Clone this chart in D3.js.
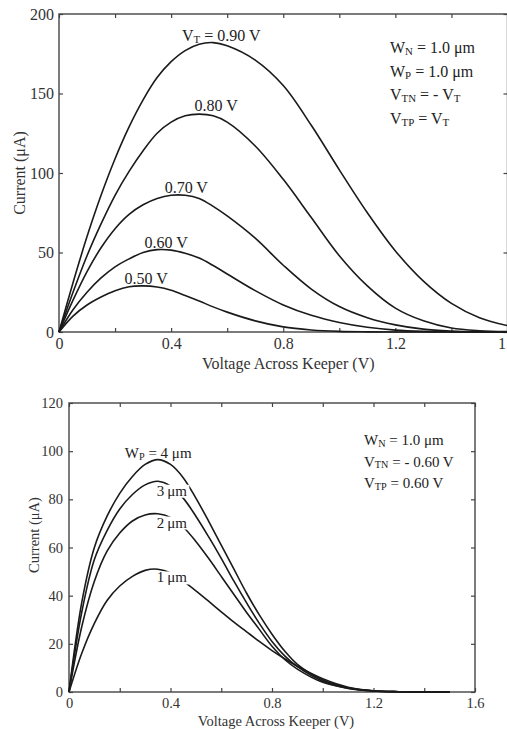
<!DOCTYPE html>
<html>
<head>
<meta charset="utf-8">
<script src="https://cdn.jsdelivr.net/npm/d3@7"></script>
<style>
  body { margin: 0; background: #fff; }
  svg { display: block; font-family: "Liberation Serif", "Times New Roman", serif; }
  .axis text { fill: #333; }
  .axis line { stroke: #444; stroke-width: 1.2; }
</style>
</head>
<body>
<svg class="fig" width="507" height="729"></svg>
<script>
// ---- top panel: keeper current for different threshold voltages ----
const topVolts = [0, 0.05, 0.1, 0.15, 0.2, 0.25, 0.3, 0.35, 0.4, 0.45, 0.5, 0.55, 0.6, 0.7, 0.8, 0.9, 1.0, 1.1, 1.2, 1.3, 1.4, 1.5, 1.6];
const vt090 = [0, 31, 60, 86, 109, 129, 146, 160, 170, 177, 181, 182, 180, 171, 155, 130, 102, 75, 51, 32, 18, 9, 4];
const vt080 = [0, 25, 48, 68, 86, 101, 114, 125, 132, 136, 137, 136, 132, 117, 96, 72, 48, 29, 15, 7, 2.5, 0.8, 0.2];
const vt070 = [0, 20, 38, 53, 65, 74, 80, 84, 86, 86, 84, 79, 73, 59, 42, 27, 16, 9, 4.5, 1.8, 0.6, 0.1, 0];
const vt060 = [0, 14, 25, 34, 41, 46, 50, 51.8, 51.5, 49.5, 46.5, 41.8, 36.5, 26, 17, 10.5, 6, 3, 1.2, 0.4, 0.1, 0, 0];
const vt050 = [0, 10, 17, 22, 26, 28.5, 29, 28.3, 26.3, 23, 19.5, 15.8, 12.5, 7, 3.2, 1.3, 0.4, 0.1, 0, 0, 0, 0, 0];
const topSeries = [vt090, vt080, vt070, vt060, vt050];
const topXTicks = [0, 0.2, 0.4, 0.6, 0.8, 1.0, 1.2, 1.4, 1.6];
const topYTicks = [0, 50, 100, 150, 200];

// ---- bottom panel: keeper current for different PMOS widths ----
const botVolts = [0, 0.05, 0.1, 0.15, 0.2, 0.25, 0.3, 0.35, 0.4, 0.45, 0.5, 0.55, 0.6, 0.65, 0.7, 0.75, 0.8, 0.85, 0.9, 1.0, 1.1, 1.2, 1.3, 1.4, 1.5];
const wp4 = [0, 37, 60, 73, 82.5, 89.5, 94.5, 96.5, 94.5, 89, 80.5, 71, 61, 51, 41, 32, 24, 17, 11.5, 5, 1.8, 0.5, 0.1, 0, 0];
const wp3 = [0, 33, 55, 67, 76, 82, 86, 87.5, 85.5, 80.5, 73, 64.5, 55.5, 46, 37, 28.5, 21, 15, 10.5, 4.5, 1.6, 0.4, 0.1, 0, 0];
const wp2 = [0, 27, 46, 58.5, 66, 71, 73.5, 74, 72.5, 68.5, 62.5, 55.5, 48, 40.5, 33, 26, 19, 13.5, 9.5, 4, 1.5, 0.4, 0.1, 0, 0];
const wp1 = [0, 16, 28.5, 38, 44, 48, 50.5, 51, 49.5, 46, 42, 37.7, 33.3, 29, 25, 21, 17.2, 13.8, 10.7, 5.5, 2, 0.5, 0.1, 0, 0];
const botSeries = [wp4, wp3, wp2, wp1];
const botXTicks = [0, 0.2, 0.4, 0.6, 0.8, 1.0, 1.2, 1.4, 1.6];
const botYTicks = [0, 20, 40, 60, 80, 100, 120];

const svg = d3.select(".fig");

// text with subscript parts: parts = [[text, isSub], ...]
function richText(g, parts, x, y, size, anchor) {
  let t = g.append("text")
    .attr("x", x)
    .attr("y", y)
    .attr("font-size", size)
    .attr("fill", "#222")
    .attr("text-anchor", anchor || "start");
  let shift = 0;
  parts.forEach((p) => {
    let want = p[1] ? size * 0.12 : 0;
    t.append("tspan")
      .attr("dy", want - shift)
      .attr("font-size", p[1] ? size * 0.68 : size)
      .text(p[0]);
    shift = want;
  });
  return t;
}

function drawPanel(opt) {
  let g = svg.append("g");
  let x = d3.scaleLinear().domain(opt.xDomain).range(opt.xRange);
  let y = d3.scaleLinear().domain(opt.yDomain).range(opt.yRange);
  let fmt = (d) => (d === 0 ? "0" : d3.format(".1f")(d));

  // bottom axis, labels only every 0.4
  g.append("g")
    .attr("class", "axis")
    .attr("transform", `translate(0,${opt.yRange[0]})`)
    .call(
      d3.axisBottom(x).tickValues(opt.xTicks).tickSizeInner(-4).tickSizeOuter(0).tickPadding(opt.xPad)
        .tickFormat((d) => (Math.round(d * 10) % 4 === 0 ? fmt(d) : ""))
    )
    .attr("font-family", null)
    .call((a) => a.select(".domain").remove())
    .selectAll("text")
    .attr("font-size", opt.tickSize);

  g.append("g")
    .attr("class", "axis")
    .attr("transform", `translate(0,${opt.yRange[1]})`)
    .call(d3.axisTop(x).tickValues(opt.xTicks).tickSizeInner(-4).tickSizeOuter(0).tickFormat(""))
    .call((a) => a.select(".domain").remove());

  g.append("g")
    .attr("class", "axis")
    .attr("transform", `translate(${opt.xRange[0]},0)`)
    .call(d3.axisLeft(y).tickValues(opt.yTicks).tickSizeInner(-4).tickSizeOuter(0).tickPadding(opt.yPad))
    .attr("font-family", null)
    .call((a) => a.select(".domain").remove())
    .selectAll("text")
    .attr("font-size", opt.tickSize);

  g.append("g")
    .attr("class", "axis")
    .attr("transform", `translate(${opt.xRange[1]},0)`)
    .call(d3.axisRight(y).tickValues(opt.yTicks).tickSizeInner(-4).tickSizeOuter(0).tickFormat(""))
    .call((a) => a.select(".domain").remove());

  // frame
  g.append("rect")
    .attr("x", opt.xRange[0])
    .attr("y", opt.yRange[1])
    .attr("width", opt.xRange[1] - opt.xRange[0])
    .attr("height", opt.yRange[0] - opt.yRange[1])
    .attr("fill", "none")
    .attr("stroke", "#444")
    .attr("stroke-width", 1.4);

  // curves
  let line = d3
    .line()
    .x((d) => x(d[0]))
    .y((d) => y(d[1]))
    .curve(d3.curveCatmullRom.alpha(0.5));

  g.selectAll(".curve")
    .data(opt.series)
    .enter()
    .append("path")
    .attr("class", "curve")
    .attr("fill", "none")
    .attr("stroke", "#1a1a1a")
    .attr("stroke-width", 1.6)
    .attr("d", (s) => line(opt.volts.map((v, i) => [v, Math.max(0, s[i])])));

  // curve labels
  opt.labels.forEach((l) => {
    let t = richText(g, l.parts, x(l.at[0]), y(l.at[1]), opt.labelSize, l.anchor);
    if (l.knock) {
      let b = t.node().getBBox();
      g.append("rect")
        .attr("x", b.x - 1)
        .attr("y", b.y + 2)
        .attr("width", b.width + 3)
        .attr("height", b.height - 3)
        .attr("fill", "#fff");
      t.raise();
    }
  });

  // parameter box
  opt.legend.forEach((row, i) => {
    richText(g, row, opt.legendX, opt.legendY + i * opt.legendStep, opt.legendSize, "start");
  });

  // axis titles
  g.append("text")
    .attr("x", (opt.xRange[0] + opt.xRange[1]) / 2 - opt.xTitleShift)
    .attr("y", opt.xTitleY)
    .attr("text-anchor", "middle")
    .attr("font-size", opt.titleSize)
    .attr("fill", "#333")
    .text("Voltage Across Keeper (V)");

  g.append("text")
    .attr("transform", `translate(${opt.yTitleX},${opt.yTitleY}) rotate(-90)`)
    .attr("text-anchor", "middle")
    .attr("font-size", opt.titleSize)
    .attr("fill", "#333")
    .text("Current (μA)");
}

drawPanel({
  volts: topVolts,
  series: topSeries,
  xDomain: [0, 1.6],
  xRange: [59, 507.5],
  yDomain: [0, 200],
  yRange: [332, 14],
  xTicks: topXTicks,
  yTicks: topYTicks,
  xPad: 6,
  yPad: 5,
  tickSize: 16,
  labelSize: 16,
  titleSize: 16,
  legendSize: 16,
  legendX: 390,
  legendY: 53,
  legendStep: 23.7,
  xTitleY: 369,
  xTitleShift: -5,
  yTitleX: 25,
  yTitleY: 173,
  labels: [
    { parts: [["V", 0], ["T", 1], [" = 0.90 V", 0]], at: [0.579, 183], anchor: "middle" },
    { parts: [["0.80 V", 0]], at: [0.561, 139], anchor: "middle" },
    { parts: [["0.70 V", 0]], at: [0.454, 87.4], anchor: "middle" },
    { parts: [["0.60 V", 0]], at: [0.382, 52.8], anchor: "middle" },
    { parts: [["0.50 V", 0]], at: [0.311, 30.2], anchor: "middle" }
  ],
  legend: [
    [["W", 0], ["N", 1], [" = 1.0 μm", 0]],
    [["W", 0], ["P", 1], [" = 1.0 μm", 0]],
    [["V", 0], ["TN", 1], [" = - V", 0], ["T", 1]],
    [["V", 0], ["TP", 1], [" = V", 0], ["T", 1]]
  ]
});

drawPanel({
  volts: botVolts,
  series: botSeries,
  xDomain: [0, 1.6],
  xRange: [69, 475],
  yDomain: [0, 120],
  yRange: [692, 403],
  xTicks: botXTicks,
  yTicks: botYTicks,
  xPad: 6,
  yPad: 6,
  tickSize: 14.5,
  labelSize: 15,
  titleSize: 14.5,
  legendSize: 15,
  legendX: 364,
  legendY: 445,
  legendStep: 21.5,
  xTitleY: 726,
  xTitleShift: -4,
  yTitleX: 39,
  yTitleY: 535,
  labels: [
    { parts: [["W", 0], ["P", 1], [" = 4 μm", 0]], at: [0.22, 97.2], anchor: "start" },
    { parts: [["3\u2009μm", 0]], at: [0.346, 81.5], anchor: "start", knock: true },
    { parts: [["2\u2009μm", 0]], at: [0.346, 68.3], anchor: "start", knock: true },
    { parts: [["1\u2009μm", 0]], at: [0.346, 45.5], anchor: "start", knock: true }
  ],
  legend: [
    [["W", 0], ["N", 1], [" = 1.0 μm", 0]],
    [["V", 0], ["TN", 1], [" = - 0.60 V", 0]],
    [["V", 0], ["TP", 1], [" = 0.60 V", 0]]
  ]
});
</script>
</body>
</html>
